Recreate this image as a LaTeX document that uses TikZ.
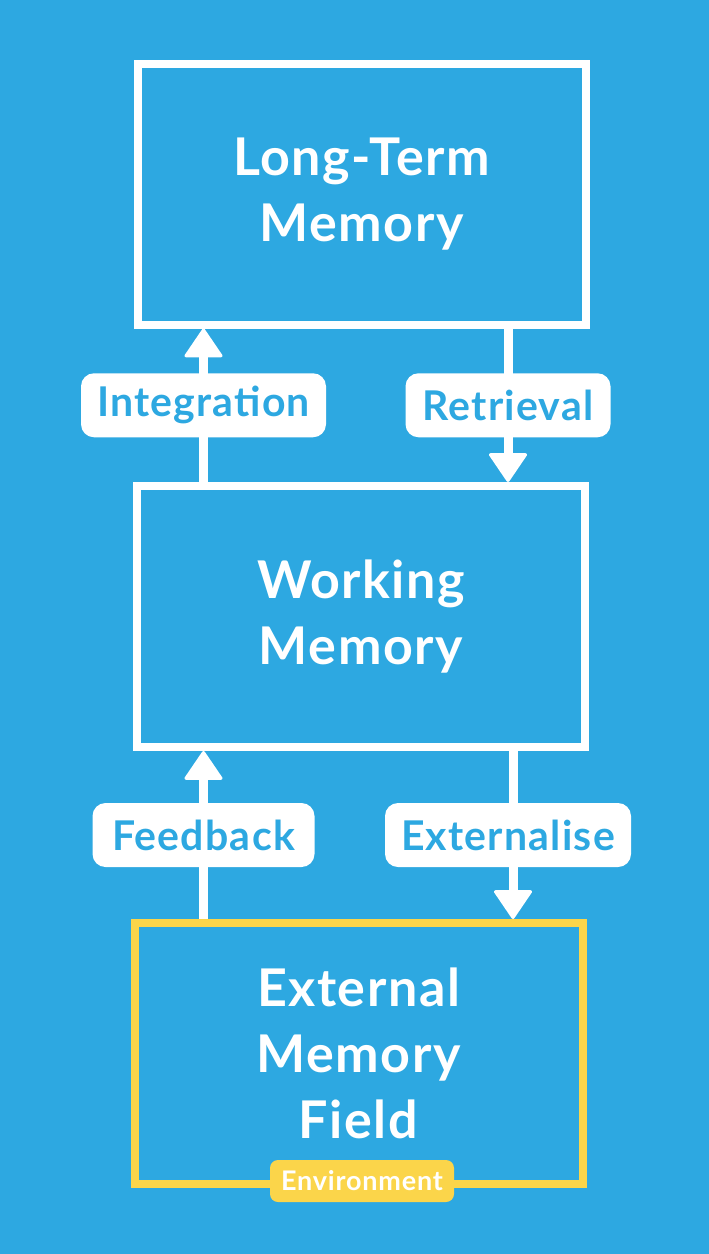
\documentclass[tikz,border=0pt]{standalone}
\usepackage{fontspec}
\setmainfont{Lato}[LetterSpace=3]
\usetikzlibrary{arrows.meta,calc}
\definecolor{bg}{HTML}{2DA8E1}
\definecolor{gold}{HTML}{FBD54A}
\begin{document}
\begin{tikzpicture}[x=1pt,y=-1pt,
  membox/.style={draw=white,line width=8pt,minimum width=448pt,minimum height=261pt,
    text=white,font=\fontsize{52}{66}\selectfont\bfseries,align=center,inner sep=0pt},
  lab/.style={fill=white,rounded corners=13pt,text=bg,minimum height=64pt,inner sep=0pt,
    font=\fontsize{41}{44}\selectfont\bfseries},
  arr/.style={draw=white,line width=9pt,
    -{Triangle[width=40pt,length=30pt,line width=3pt,round]}},
  envtag/.style={fill=gold,rounded corners=8pt,text=white,minimum width=184pt,minimum height=42pt,
    inner sep=0pt,font=\fontsize{27}{30}\selectfont\bfseries}]
\fill[bg] (0,0) rectangle (709,1254);
\useasboundingbox (0,0) rectangle (709,1254);
\node[membox] (ltm) at (361.5,194) {\raisebox{-3pt}{Long-Term}\\\raisebox{-3pt}{Memory}};
\node[membox] (wm) at (361,616.5) {\raisebox{-4pt}{Working}\\\raisebox{-4pt}{Memory}};
\node[membox,draw=gold] (ext) at (358.5,1053.5) {External\\Memory\\Field};
\node[envtag] (env) at (362,1181) {Environment};
\coordinate (xa) at (203.5,0);
\coordinate (xb) at (508,0);
\coordinate (xc) at (513,0);
\draw[arr] (wm.north -| xa) -- node[lab,minimum width=245pt] (lint) {Integration} (ltm.south -| xa);
\draw[arr] (ltm.south -| xb) -- node[lab,minimum width=205pt] (lret) {Retrieval} (wm.north -| xb);
\draw[arr] (ext.north -| xa) -- node[lab,minimum width=222pt] (lfb) {Feedback} (wm.south -| xa);
\draw[arr] (wm.south -| xc) -- node[lab,minimum width=246pt,xshift=-5pt] (lext) {Externalise} (ext.north -| xc);
\end{tikzpicture}
\end{document}
